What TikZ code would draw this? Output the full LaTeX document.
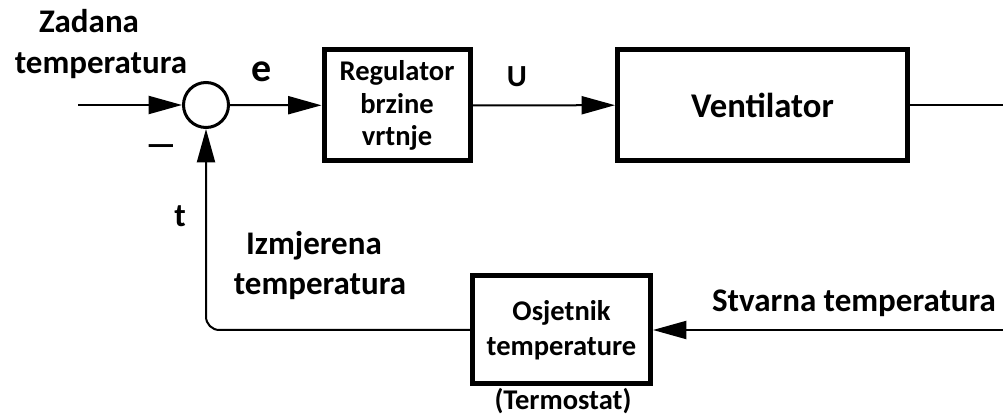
\documentclass[tikz,border=0pt]{standalone}
\usepackage{fontspec}
\setmainfont{Carlito}
\usetikzlibrary{arrows.meta}
\begin{document}
\begin{tikzpicture}[x=0.75pt,y=-0.75pt,
  blk/.style={draw, line width=3.75pt, inner sep=0pt, align=center},
  small/.style={font=\bfseries\fontsize{21.4}{24.4}\selectfont},
  conn/.style={line width=1.5pt},
  arr/.style={conn, -{Triangle[length=25pt,width=13.5pt]}},
  lbl/.style={font=\bfseries\fontsize{24.75}{31}\selectfont, inner sep=0pt, anchor=base},
]
\useasboundingbox (0,0) rectangle (1003,416);
% blocks
\node[blk, small, minimum width=109.5pt, minimum height=83.25pt] (reg) at (397,105.5) {Regulator\\brzine\\vrtnje};
\node[blk, font=\bfseries\fontsize{26}{30}\selectfont, minimum width=217.5pt, minimum height=83.25pt] (ven) at (762.5,105) {Ventilator};
\node[blk, font=\bfseries\fontsize{21.4}{26.25}\selectfont, minimum width=133.5pt, minimum height=81pt] (osj) at (561.5,330) {Osjetnik\\temperature};
\node[circle, draw, line width=2.25pt, minimum size=33.75pt, inner sep=0pt] (sum) at (206,105) {};
% free ends
\coordinate (in) at (78,105);
\coordinate (out) at (1003,105);
\coordinate (real) at (1003,330);
% connectors
\draw[arr] (in) -- (sum);
\draw[arr] (sum) -- (reg);
\draw[arr] (reg) -- (ven);
\draw[conn] (ven) -- (out);
\draw[arr] (real) -- (osj);
\draw[arr, rounded corners=10pt] (osj.west) -| (sum.south);
% labels
\node[lbl] (zad) at (89,33) {Zadana};
\node[lbl] (zadt) at (101,74) {temperatura};
\node[lbl, font=\bfseries\fontsize{30}{34}\selectfont] (e) at (262,82) {e};
\node[lbl, font=\bfseries\fontsize{23}{26}\selectfont] (u) at (517,87) {U};
\node[font=\bfseries\fontsize{25}{28}\selectfont, inner sep=0pt] (minus) at (161,150) {—};
\node[lbl] (t) at (180,227) {t};
\node[lbl] (izm) at (314,255) {Izmjerena};
\node[lbl] (izmt) at (320,295) {temperatura};
\node[lbl] (stv) at (854,312) {Stvarna temperatura};
\node[lbl, small] (term) at (563,410) {(Termostat)};
\end{tikzpicture}
\end{document}
